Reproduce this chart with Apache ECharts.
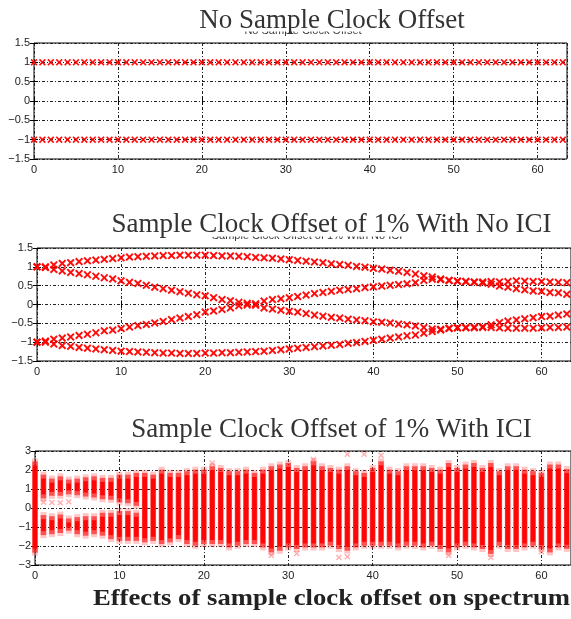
<!DOCTYPE html>
<html><head><meta charset="utf-8">
<script src="https://cdn.jsdelivr.net/npm/echarts@6/dist/echarts.min.js"></script>
<style>html,body{margin:0;padding:0;background:#fff}#c{width:571px;height:619px}</style>
</head><body><div id="c"></div>
<script>
// ---------------- data ----------------
const subcarrierIndex = [0,1,2,3,4,5,6,7,8,9,10,11,12,13,14,15,16,17,18,19,20,21,22,23,24,25,26,27,28,29,30,31,32,33,34,35,36,37,38,39,40,41,42,43,44,45,46,47,48,49,50,51,52,53,54,55,56,57,58,59,60,61,62,63];

// Panel 1: no sample clock offset
const noOffsetUpper = [1,1,1,1,1,1,1,1,1,1,1,1,1,1,1,1,1,1,1,1,1,1,1,1,1,1,1,1,1,1,1,1,1,1,1,1,1,1,1,1,1,1,1,1,1,1,1,1,1,1,1,1,1,1,1,1,1,1,1,1,1,1,1,1];
const noOffsetLower = [-1,-1,-1,-1,-1,-1,-1,-1,-1,-1,-1,-1,-1,-1,-1,-1,-1,-1,-1,-1,-1,-1,-1,-1,-1,-1,-1,-1,-1,-1,-1,-1,-1,-1,-1,-1,-1,-1,-1,-1,-1,-1,-1,-1,-1,-1,-1,-1,-1,-1,-1,-1,-1,-1,-1,-1,-1,-1,-1,-1,-1,-1,-1,-1];

// Panel 2: 1% offset, no ICI (four branches)
const noIciOuterUpper = [1.00,1.00,1.05,1.09,1.11,1.14,1.16,1.18,1.20,1.22,1.24,1.26,1.27,1.28,1.29,1.30,1.30,1.31,1.31,1.31,1.31,1.30,1.29,1.29,1.28,1.27,1.25,1.24,1.23,1.21,1.19,1.17,1.15,1.13,1.11,1.08,1.06,1.04,1.01,0.99,0.96,0.94,0.91,0.88,0.85,0.81,0.76,0.73,0.68,0.64,0.62,0.61,0.60,0.60,0.61,0.60,0.61,0.63,0.62,0.61,0.61,0.60,0.59,0.58];
const noIciInnerUpper = [1.00,0.98,0.93,0.89,0.85,0.82,0.79,0.75,0.71,0.68,0.63,0.59,0.56,0.51,0.46,0.42,0.38,0.34,0.30,0.26,0.23,0.18,0.13,0.10,0.06,0.03,0.02,0.09,0.13,0.15,0.18,0.21,0.25,0.29,0.32,0.35,0.38,0.40,0.42,0.45,0.47,0.49,0.51,0.53,0.55,0.58,0.64,0.67,0.66,0.64,0.62,0.61,0.59,0.57,0.54,0.49,0.46,0.42,0.39,0.36,0.35,0.32,0.31,0.27];
const noIciInnerLower = [-1.00,-0.97,-0.92,-0.89,-0.86,-0.82,-0.79,-0.75,-0.70,-0.68,-0.64,-0.60,-0.56,-0.53,-0.49,-0.45,-0.40,-0.36,-0.32,-0.27,-0.20,-0.17,-0.13,-0.09,-0.03,-0.01,-0.02,-0.09,-0.12,-0.15,-0.18,-0.20,-0.24,-0.28,-0.31,-0.34,-0.36,-0.39,-0.41,-0.43,-0.46,-0.47,-0.49,-0.52,-0.54,-0.57,-0.61,-0.65,-0.66,-0.63,-0.62,-0.61,-0.60,-0.59,-0.54,-0.48,-0.44,-0.41,-0.38,-0.35,-0.32,-0.31,-0.28,-0.25];
const noIciOuterLower = [-1.00,-1.00,-1.05,-1.09,-1.11,-1.14,-1.16,-1.18,-1.20,-1.22,-1.24,-1.25,-1.26,-1.27,-1.28,-1.29,-1.29,-1.30,-1.30,-1.30,-1.29,-1.29,-1.28,-1.28,-1.27,-1.26,-1.25,-1.24,-1.22,-1.20,-1.18,-1.16,-1.14,-1.12,-1.10,-1.08,-1.06,-1.03,-1.01,-0.98,-0.95,-0.92,-0.89,-0.86,-0.83,-0.81,-0.76,-0.72,-0.68,-0.64,-0.62,-0.62,-0.62,-0.61,-0.61,-0.62,-0.63,-0.63,-0.63,-0.63,-0.62,-0.61,-0.61,-0.60];

// Panel 3: 1% offset with ICI — extent of the scattered column at each subcarrier
const iciColumnTop = [2.50,1.81,1.60,1.72,1.55,1.60,1.67,1.72,1.64,1.64,1.81,1.81,1.90,1.90,1.81,2.07,1.90,1.90,1.99,2.07,2.07,2.25,2.16,1.99,1.99,2.07,1.90,2.07,2.25,2.34,2.42,2.16,2.25,2.51,2.25,2.16,2.07,2.25,1.99,1.90,2.16,2.51,2.07,1.99,2.25,2.25,2.25,2.16,2.07,2.42,2.16,2.34,2.42,2.16,2.42,1.99,2.25,2.25,2.07,1.99,1.90,2.34,2.34,2.10];
const iciColumnBottom = [-2.40,-1.48,-1.43,-1.37,-1.25,-1.43,-1.51,-1.43,-1.51,-1.69,-1.78,-1.78,-1.78,-1.86,-1.78,-1.95,-1.86,-1.69,-1.95,-2.04,-1.95,-1.95,-1.95,-2.13,-2.04,-1.95,-1.95,-2.13,-2.39,-2.30,-2.13,-2.21,-2.13,-2.13,-2.13,-2.04,-2.21,-2.30,-2.13,-2.04,-2.04,-2.04,-2.04,-2.13,-2.04,-2.04,-2.13,-2.04,-2.21,-2.39,-2.13,-2.04,-2.13,-2.21,-2.47,-2.04,-2.21,-2.21,-2.13,-2.04,-2.21,-2.39,-2.13,-2.20];
// early subcarriers split in two clusters (null = no gap)
const iciUpperClusterFloor = [null,0.45,0.59,0.59,0.67,0.62,0.55,0.50,0.41,0.38,0.24,0.20,0.06];
const iciLowerClusterCeil  = [null,-0.32,-0.38,-0.29,-0.50,-0.43,-0.38,-0.38,-0.20,-0.20,-0.11,-0.11,-0.20];
const iciOutliers = [[1,0.30],[2,0.29],[3,0.27],[4,0.33],[21,2.37],[33,2.55],[37,2.83],[39,2.83],[37,-2.56],[36,-2.60],[41,2.77],[49,-2.50],[54,-2.60],[31,-2.40],[28,-2.50],[60,-2.30]];

const xTickStep = 10;
const titleTexts = ['No Sample Clock Offset','Sample Clock Offset of 1% With No ICI','Sample Clock Offset of 1% With ICI'];
const captionText = 'Effects of sample clock offset on spectrum';

// ---------------- chart ----------------
const XMARK = 'path://M0,1.7 L1.7,0 L5,3.3 L8.3,0 L10,1.7 L6.7,5 L10,8.3 L8.3,10 L5,6.7 L1.7,10 L0,8.3 L3.3,5 Z';
const RED = '#ff0000';
const gridDefs = [
  {left:34, top:43, width:533, height:116},
  {left:37, top:248, width:534, height:113},
  {left:35, top:451, width:540, height:114}
];
const yRanges = [[-1.5,1.5,0.5],[-1.5,1.5,0.5],[-3,3,1]];
const fmt = v => v < 0 ? '\u2212' + String(Math.abs(v)) : String(v);
const splitStyle = {show:true, lineStyle:{color:'#222', width:1, type:[3,2,1,2]}};

const grids = gridDefs.map(g => Object.assign({show:true, borderColor:'#000', borderWidth:1, backgroundColor:'transparent'}, g));
const xAxes = [], yAxes = [];
gridDefs.forEach((g,i) => {
  xAxes.push({type:'value', gridIndex:i, min:0, max:63.5, interval:xTickStep, position:'bottom',
    axisLine:{show:false}, axisTick:{show:true, inside:true, length:4, lineStyle:{color:'#000'}},
    axisLabel:{show:true, color:'#222', fontFamily:'Liberation Sans', fontSize:11, margin:5, showMaxLabel:false,
      formatter: v => (v % xTickStep === 0 ? String(v) : '')},
    splitLine:splitStyle});
  xAxes.push({type:'value', gridIndex:i, min:0, max:63.5, interval:xTickStep, position:'top',
    axisLine:{show:false}, axisTick:{show:true, inside:true, length:4, lineStyle:{color:'#000'}},
    axisLabel:{show:false}, splitLine:{show:false}});
  const r = yRanges[i];
  yAxes.push({type:'value', gridIndex:i, min:r[0], max:r[1], interval:r[2], position:'left',
    axisLine:{show:false}, axisTick:{show:true, inside:true, length:4, lineStyle:{color:'#000'}},
    axisLabel:{show:true, color:'#222', fontFamily:'Liberation Sans', fontSize:11, margin:4, formatter:fmt},
    splitLine:splitStyle});
  yAxes.push({type:'value', gridIndex:i, min:r[0], max:r[1], interval:r[2], position:'right',
    axisLine:{show:false}, axisTick:{show:true, inside:true, length:4, lineStyle:{color:'#000'}},
    axisLabel:{show:false}, splitLine:{show:false}});
});

const pairs = arr => subcarrierIndex.map((x,i) => [x, arr[i]]);
const scatter = (arr, gi, size) => ({type:'scatter', xAxisIndex:gi*2, yAxisIndex:gi*2, data:pairs(arr),
  symbol:XMARK, symbolSize:size, itemStyle:{color:RED, opacity:0.95}, silent:true, z:3});

// ICI columns
const columnData = [];
subcarrierIndex.forEach((x,i) => {
  const floor = i < iciUpperClusterFloor.length ? iciUpperClusterFloor[i] : null;
  const ceil = i < iciLowerClusterCeil.length ? iciLowerClusterCeil[i] : null;
  if (floor !== null && ceil !== null) {
    columnData.push([x, floor, iciColumnTop[i]]);
    columnData.push([x, iciColumnBottom[i], ceil]);
  } else {
    columnData.push([x, iciColumnBottom[i], iciColumnTop[i]]);
  }
});
function renderColumn(params, api) {
  const x = api.value(0), lo = api.value(1), hi = api.value(2);
  const pTop = api.coord([x, hi]), pBot = api.coord([x, lo]);
  const h = pBot[1] - pTop[1];
  return {type:'group', children:[
    {type:'rect', shape:{x:pTop[0]-3, y:pTop[1]-2, width:6, height:h+4}, style:{fill:'rgba(255,90,90,0.35)'}},
    {type:'rect', shape:{x:pTop[0]-2.75, y:pTop[1]+1, width:5.5, height:Math.max(0,h-2)}, style:{fill:'rgba(255,0,0,0.6)'}},
    {type:'rect', shape:{x:pTop[0]-2.25, y:pTop[1]+5, width:4.5, height:Math.max(0,h-10)}, style:{fill:'rgba(255,0,0,0.92)'}}
  ]};
}

const series = [
  scatter(noOffsetUpper, 0, 7), scatter(noOffsetLower, 0, 7),
  scatter(noIciOuterUpper, 1, 8), scatter(noIciInnerUpper, 1, 8),
  scatter(noIciInnerLower, 1, 8), scatter(noIciOuterLower, 1, 8),
  {type:'custom', xAxisIndex:4, yAxisIndex:4, data:columnData, renderItem:renderColumn, silent:true, z:2,
    encode:{x:0, y:[1,2]}},
  {type:'scatter', xAxisIndex:4, yAxisIndex:4, data:iciOutliers, symbol:XMARK, symbolSize:6,
    itemStyle:{color:'rgba(255,60,60,0.5)'}, silent:true, z:3}
];

const serif = 'Liberation Serif, Times New Roman, serif';
const txt = (text, x, y, font, fill, z, sx) => ({type:'text', x:x, y:y, z:z, scaleX:sx || 1,
  style:{text:text, font:font, fill:fill, textAlign:'center', textVerticalAlign:'bottom', align:'center', verticalAlign:'bottom'}});
const graphic = [
  // small original titles, mostly hidden behind the large ones
  {type:'text', x:303, y:31, z:5, style:{text:titleTexts[0], font:'11px Liberation Sans', fill:'#333', textAlign:'center', textVerticalAlign:'middle', align:'center', verticalAlign:'middle'}},
  {type:'rect', shape:{x:0, y:0, width:571, height:31.5}, style:{fill:'#fff'}, z:6},
  {type:'text', x:307, y:236, z:5, style:{text:titleTexts[1], font:'11px Liberation Sans', fill:'#333', textAlign:'center', textVerticalAlign:'middle', align:'center', verticalAlign:'middle'}},
  {type:'rect', shape:{x:100, y:205, width:471, height:31.5}, style:{fill:'#fff'}, z:6},
  txt(titleTexts[0], 332, 34, '27px '+serif, '#333', 10),
  txt(titleTexts[1], 331.5, 238, '27px '+serif, '#333', 10),
  txt(titleTexts[2], 331.5, 443, '27px '+serif, '#333', 10),
  txt(captionText, 331.5, 611, 'bold 23px '+serif, '#222', 10, 1.16)
];

const chart = echarts.init(document.getElementById('c'), null, {renderer:'canvas', width:571, height:619});
chart.setOption({animation:false, backgroundColor:'#fff', grid:grids, xAxis:xAxes, yAxis:yAxes, series:series, graphic:graphic});
</script></body></html>
